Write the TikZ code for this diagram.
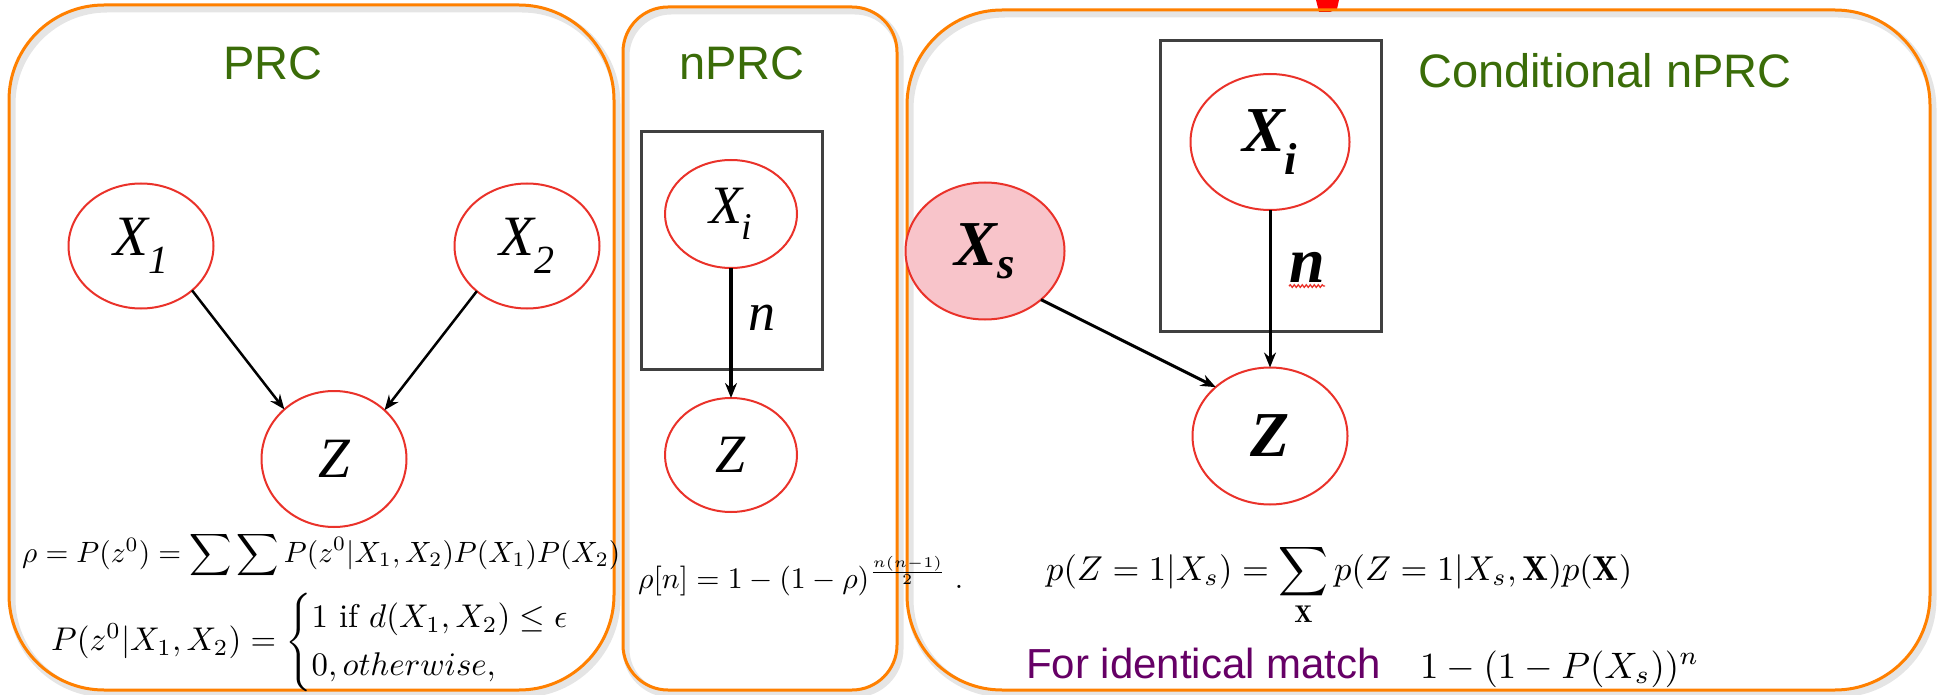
\documentclass[tikz,border=0pt]{standalone}
\usepackage{fontspec}
\usepackage{amsmath,graphicx}
\usetikzlibrary{arrows.meta,shapes.geometric,decorations.pathmorphing}
\newfontfamily\arialf{Liberation Sans}
\newfontfamily\tmsf{Liberation Serif}
\definecolor{panelorange}{RGB}{255,128,0}
\definecolor{titlegreen}{RGB}{58,108,8}
\definecolor{nodered}{RGB}{234,50,42}
\definecolor{xspink}{RGB}{248,196,202}
\definecolor{matchpurple}{RGB}{102,0,102}
\definecolor{plategray}{RGB}{64,64,64}
\newcommand{\lbl}[2]{#1\textsubscript{#2}}
\tikzset{
  panel/.style={draw=panelorange, line width=3pt},
  pshadow/.style={draw=black, opacity=0.10, line width=7pt},
  rv/.style={ellipse, draw=nodered, line width=2pt, inner sep=0pt, outer sep=0pt},
  lblA/.style={font=\tmsf\itshape\fontsize{57}{60}\selectfont},
  lblB/.style={font=\tmsf\itshape\fontsize{54}{58}\selectfont},
  lblC/.style={font=\tmsf\bfseries\itshape\fontsize{64}{68}\selectfont},
  title/.style={font=\arialf\fontsize{47}{56}\selectfont, text=titlegreen, inner sep=0pt},
  plate/.style={draw=plategray, line width=3pt},
  arr/.style={-{Stealth[length=15pt,width=12pt,inset=5pt]}, line width=2.5pt},
  eq/.style={anchor=west, inner sep=0pt},
}
\begin{document}
\begin{tikzpicture}[x=1pt,y=-1pt]
\useasboundingbox (0,0) rectangle (1939,695);
\fill[white] (0,0) rectangle (1939,695);
% red fragment at top
\fill[red] (1316,0) -- (1339,0) -- (1337,9) -- (1330,12) -- (1319,12) -- cycle;
% panel shadows
\draw[pshadow, rounded corners=95pt] (12,9) rectangle (617,694);
\draw[pshadow, rounded corners=45pt] (626,11) rectangle (900,694);
\draw[pshadow, rounded corners=95pt] (910,14) rectangle (1933,694);
% panels
\draw[panel, rounded corners=95pt] (9,5) rectangle (614,690);
\draw[panel, rounded corners=45pt] (623,7) rectangle (897,690);
\draw[panel, rounded corners=95pt] (907,10) rectangle (1930,690);
% titles
\node[title, anchor=base] (tprc) at (273,80) {PRC};
\node[title, anchor=base] (tnprc) at (742,80) {nPRC};
\node[title, anchor=base west] (tcond) at (1418,88) {Conditional nPRC};
% PRC graph
\node[rv, lblA, minimum width=145pt, minimum height=125pt] (x1) at (141,246) {\lbl{X}{1}};
\node[rv, lblA, minimum width=145pt, minimum height=125pt] (x2) at (527,246) {\lbl{X}{2}};
\node[rv, lblA, minimum width=145pt, minimum height=136pt] (z1) at (334,459) {Z};
\draw[arr] (x1.-41.6) -- (z1.135);
\draw[arr] (x2.-138) -- (z1.44);
% nPRC graph
\draw[plate] (641,132) rectangle (822,369);
\node[rv, lblB, minimum width=132pt, minimum height=108pt] (xi1) at (731,214) {\lbl{X}{i}};
\node[rv, lblB, minimum width=132pt, minimum height=114pt] (z2) at (731,455) {Z};
\draw[arr, line width=3.5pt] (xi1) -- (z2);
\node[lblB, inner sep=0pt] (n1) at (762,318) {n};
% Conditional nPRC graph
\draw[plate] (1160,41) rectangle (1381,331);
\node[rv, lblC, minimum width=159pt, minimum height=136pt] (xi2) at (1270,142) {\lbl{X}{i}};
\node[rv, lblC, fill=xspink, minimum width=159pt, minimum height=137pt] (xs) at (985,251) {\lbl{X}{s}};
\node[rv, lblC, minimum width=155pt, minimum height=137pt] (z3) at (1270,436) {Z};
\draw[arr, line width=3pt] (xi2) -- (z3);
\draw[arr, line width=3pt] (xs.-41) -- (z3.138);
\node[lblC, inner sep=0pt] (n2) at (1307,267) {n};
\draw[nodered, line width=1.3pt, decorate, decoration={snake, amplitude=1.3pt, segment length=4pt}]
  ([yshift=-4pt]n2.base west) -- ([yshift=-4pt]n2.base east);
% equations
\node[eq] (eq1) at (22,555) {\resizebox{598pt}{!}{$\rho = P(z^0) = \displaystyle\sum\sum P(z^0|X_1,X_2)P(X_1)P(X_2)$}};
\node[eq] (eq2) at (51,642) {\resizebox{553pt}{!}{$P(z^0|X_1,X_2) = \begin{cases} 1 \text{ if } d(X_1,X_2) \le \epsilon \\ 0, otherwise,\end{cases}$}};
\node[eq] (eq3) at (638,576) {\resizebox{325pt}{!}{$\rho[n] = 1-(1-\rho)^{\frac{n(n-1)}{2}}\;.$}};
\node[eq] (eq4) at (1046,585) {\resizebox{586pt}{!}{$\displaystyle p(Z=1|X_s)=\sum_{\mathbf{X}} p(Z=1|X_s,\mathbf{X})p(\mathbf{X})$}};
\node[anchor=base west, inner sep=0pt, font=\arialf\fontsize{42}{50}\selectfont, text=matchpurple] (fim) at (1026,678) {For identical match};
\node[eq] (eq5) at (1420,669) {\resizebox{279pt}{!}{$1-(1-P(X_s))^n$}};
\end{tikzpicture}
\end{document}
